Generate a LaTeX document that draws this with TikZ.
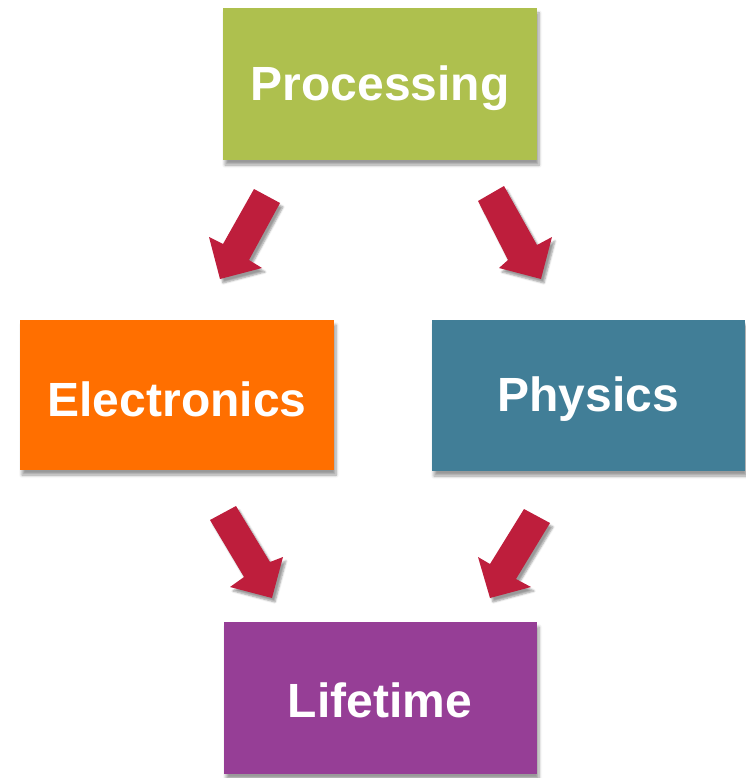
\documentclass[tikz,border=0pt]{standalone}
\usepackage{fontspec}
\setmainfont{Liberation Sans}
\usetikzlibrary{shadows,shadows.blur}
\definecolor{cgreen}{RGB}{174,192,78}
\definecolor{corange}{RGB}{255,111,0}
\definecolor{cteal}{RGB}{65,126,151}
\definecolor{cpurple}{RGB}{150,62,150}
\definecolor{carrow}{RGB}{190,30,60}
\begin{document}
\begin{tikzpicture}[x=1pt,y=-1pt,
  boxst/.style={draw=none,
    blur shadow={shadow xshift=2pt, shadow yshift=-5pt, shadow blur steps=6, shadow opacity=40, shadow blur radius=3pt}},
  labst/.style={text=white, font=\fontsize{48}{50}\selectfont\bfseries},
  arrowst/.style={fill=carrow, blur shadow={shadow xshift=3pt, shadow yshift=-4pt, shadow blur steps=5, shadow opacity=40, shadow blur radius=2pt}}]
\useasboundingbox (0,0) rectangle (745,778);
\fill[cgreen, boxst] (223,8) rectangle (537,160);
\node[labst] (proc) at (380,88) {Processing};
\fill[corange, boxst] (20,320) rectangle (334,470);
\node[labst] (elec) at (177,399) {Electronics};
\fill[cteal, boxst] (432,320) rectangle (745,471);
\node[labst] (phys) at (588,399) {Physics};
\fill[cpurple, boxst] (224,622) rectangle (537,774);
\node[labst] (life) at (380,700) {Lifetime};
% arrows
\fill[arrowst] (254,189) -- (280,203) -- (249,260) -- (262,268) -- (220,279) -- (209,237) -- (223,244) -- cycle;
\fill[arrowst] (504,186) -- (478,201) -- (508,260) -- (499,268) -- (541,279) -- (552,237) -- (537,245) -- cycle;
\fill[arrowst] (210,520) -- (236,506) -- (270,562) -- (283,557) -- (272,598) -- (230,587) -- (244,577) -- cycle;
\fill[arrowst] (524,509) -- (550,523) -- (516,579) -- (531,587) -- (490,598) -- (478,557) -- (490,564) -- cycle;
\end{tikzpicture}
\end{document}
